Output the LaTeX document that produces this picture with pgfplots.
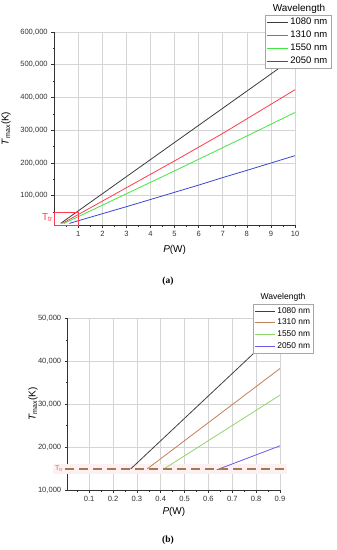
\documentclass[border=0pt]{standalone}
\usepackage{pgfplots}
\pgfplotsset{compat=1.18}
\usepackage{fontspec}
\setmainfont{Liberation Sans}
\newfontfamily\capfont{Liberation Serif}
\definecolor{cA1}{HTML}{3A3A3A}
\definecolor{cA2}{HTML}{FF3B4E}
\definecolor{cA3}{HTML}{3EE83E}
\definecolor{cA4}{HTML}{3A48D0}
\definecolor{cB1}{HTML}{404040}
\definecolor{cB2}{HTML}{C0805A}
\definecolor{cB3}{HTML}{8ED66A}
\definecolor{cB4}{HTML}{6A5AE8}
\definecolor{ttr}{HTML}{A07A50}
\definecolor{band}{HTML}{FDF0F3}
\definecolor{gridc}{HTML}{D4D4D4}
\pgfplotsset{
  common/.style={
    scale only axis,
    anchor=south west,
    axis x line*=bottom, axis y line*=left,
    axis line style={draw=black!80, line width=0.6pt},
    grid=major,
    major grid style={draw=gridc, line width=0.6pt},
    tick align=outside,
    major tick length=3bp, minor tick length=1.6bp,
    tick style={black!80, line width=0.5pt},
    ticklabel style={font=\fontsize{7.6}{9}\selectfont, text=black!80},
    label style={font=\fontsize{10}{12}\selectfont},
    /pgf/number format/.cd, assume math mode=true, 1000 sep={,}, fixed,
    /pgfplots/.cd,
    scaled ticks=false,
    legend cell align=left,
    every axis plot/.append style={line width=0.8pt},
  }
}
\begin{document}
\begin{tikzpicture}
\useasboundingbox (0,0) rectangle (337bp,550bp);
% ---------- (a) ----------
\begin{axis}[common,
  at={(54.2bp,325bp)},
  width=240.8bp, height=193bp,
  xmin=0, xmax=10, ymin=10000, ymax=600000,
  xtick={1,2,3,4,5,6,7,8,9,10},
  minor xtick={0.5,1.5,2.5,3.5,4.5,5.5,6.5,7.5,8.5,9.5},
  ytick={100000,200000,300000,400000,500000,600000},
  minor ytick={50000,150000,250000,350000,450000,550000},
  xlabel={\textit{P}(W)},
  ylabel={\textit{T}\textsubscript{max}(K)},
  xlabel style={at={(axis description cs:0.5,-0.13)}, anchor=center},
  ylabel style={at={(axis description cs:-0.2,0.5)}, anchor=center},
  clip=false,
  legend style={at={(0.875,1.09)}, anchor=north west, draw=black!35, fill=white,
    font=\fontsize{9.5}{10.5}\selectfont, inner sep=1.5pt, row sep=0.8pt},
  legend image code/.code={\draw[mark repeat=2,mark phase=2,#1] plot coordinates {(0bp,0bp) (10.5bp,0bp) (21bp,0bp)};},
]
\addplot[color=cA1] coordinates {(0.27,15000) (1,53200) (2,105500) (3,157800) (4,210100) (5,262400) (6,314700) (7,367000) (8,419300) (9,471600) (10,523900)};
\addlegendentry{1080 nm}
\addplot[color=cA2] coordinates {(0.34,14900) (1,42000) (2,83000) (3,124000) (4,165000) (5,206000) (6,248000) (7,290000) (8,334500) (9,379000) (10,423500)};
\addlegendentry{1310 nm}
\addplot[color=cA3] coordinates {(0.41,14900) (1,35500) (2,70500) (3,105500) (4,140500) (5,175500) (6,211000) (7,246500) (8,282000) (9,318000) (10,354000)};
\addlegendentry{1550 nm}
\addplot[color=cA4] coordinates {(0.63,14800) (1,23000) (2,44500) (3,66000) (4,88000) (5,110000) (6,132000) (7,155000) (8,177000) (9,199500) (10,222000)};
\addlegendentry{2050 nm}
\draw[cA2, line width=0.8pt] (axis cs:0,10000) rectangle (axis cs:1,50000);
\node[anchor=east, text=cA2, inner sep=1pt, font=\fontsize{10}{12}\selectfont] at (axis cs:0,33000) {T\textsubscript{tr}};
\end{axis}
\node[font=\fontsize{10}{12}\selectfont] at (299bp,541bp) {Wavelength};
\node[font=\capfont\bfseries\fontsize{9.5}{11}\selectfont] at (168bp,269bp) {(a)};
% ---------- (b) ----------
\begin{axis}[common,
  at={(67.7bp,60bp)},
  width=212.3bp, height=171.7bp,
  xmin=0.01, xmax=0.9, ymin=10000, ymax=50000,
  xtick={0.1,0.2,0.3,0.4,0.5,0.6,0.7,0.8,0.9},
  xticklabels={0.1,0.2,0.3,0.4,0.5,0.6,0.7,0.8,0.9},
  minor xtick={0.05,0.15,0.25,0.35,0.45,0.55,0.65,0.75,0.85},
  ytick={10000,20000,30000,40000,50000},
  minor ytick={15000,25000,35000,45000},
  xlabel={\textit{P}(W)},
  ylabel={\textit{T}\textsubscript{max}(K)},
  xlabel style={at={(axis description cs:0.5,-0.126)}, anchor=center},
  ylabel style={at={(axis description cs:-0.163,0.5)}, anchor=center},
  clip=false,
  legend style={at={(0.874,1.083)}, anchor=north west, draw=black!35, fill=white,
    font=\fontsize{8.4}{9.5}\selectfont, inner sep=1.2pt, row sep=0.3pt},
  legend image code/.code={\draw[mark repeat=2,mark phase=2,#1] plot coordinates {(0bp,0bp) (10bp,0bp) (20bp,0bp)};},
]
\fill[band] (axis cs:-0.051,13700) rectangle (axis cs:0.929,16100);
\addplot[color=cB1] coordinates {(0.274,14900) (0.9,47600)};
\addlegendentry{1080 nm}
\addplot[color=cB2] coordinates {(0.343,14900) (0.9,38300)};
\addlegendentry{1310 nm}
\addplot[color=cB3] coordinates {(0.413,14900) (0.9,32100)};
\addlegendentry{1550 nm}
\addplot[color=cB4] coordinates {(0.635,14700) (0.9,20300)};
\addlegendentry{2050 nm}
\addplot[ttr, line width=1.5pt, dash pattern=on 9bp off 5bp, forget plot] coordinates {(0.0,14900) (0.929,14900)};
\node[anchor=east, text=ttr!80!orange, inner sep=1pt, xshift=-3.5bp, font=\fontsize{7}{8}\selectfont] at (axis cs:0.01,14900) {T\textsubscript{tr}};
\end{axis}
\node[font=\fontsize{8.6}{10}\selectfont] at (283bp,253bp) {Wavelength};
\node[font=\capfont\bfseries\fontsize{9.5}{11}\selectfont] at (168bp,10bp) {(b)};
\end{tikzpicture}
\end{document}
